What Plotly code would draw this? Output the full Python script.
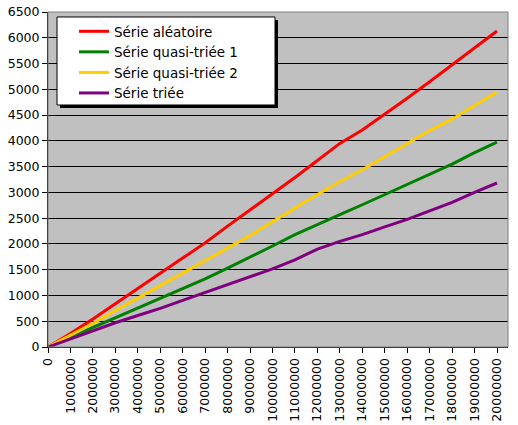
import plotly.graph_objects as go

# x values (number of elements)
x_vals = [i * 1000000 for i in range(21)]

serie_aleatoire = [0, 262, 545, 835, 1125, 1430, 1725, 2020, 2345, 2655, 2965,
                   3290, 3620, 3950, 4210, 4515, 4825, 5145, 5475, 5810, 6131]
serie_quasi_1 = [0, 190, 380, 568, 755, 945, 1135, 1320, 1530, 1737, 1960,
                 2180, 2380, 2570, 2760, 2955, 3150, 3360, 3550, 3770, 3977]
serie_quasi_2 = [0, 228, 455, 705, 945, 1185, 1430, 1670, 1905, 2160, 2430,
                 2700, 2960, 3207, 3440, 3690, 3950, 4200, 4420, 4690, 4948]
serie_triee = [0, 160, 315, 470, 612, 750, 905, 1060, 1210, 1372, 1515,
               1690, 1900, 2050, 2180, 2330, 2475, 2640, 2805, 3000, 3182]

names = ["Série aléatoire", "Série quasi-triée 1", "Série quasi-triée 2", "Série triée"]
series = [serie_aleatoire, serie_quasi_1, serie_quasi_2, serie_triee]
colors = ["#FF0000", "#008000", "#FFCC00", "#800080"]

y_ticks = list(range(0, 6501, 500))
x_ticks = x_vals
x_ticktext = [str(v) for v in x_ticks]

fig = go.Figure()
for name, ys, col in zip(names, series, colors):
    fig.add_trace(go.Scatter(x=x_vals, y=ys, mode="lines", name=name,
                             line=dict(color=col, width=3)))

tick_font = dict(family="DejaVu Sans", size=12.5, color="black")

fig.update_layout(
    width=518, height=425,
    margin=dict(l=48, r=10, t=12, b=78, autoexpand=False),
    paper_bgcolor="white",
    plot_bgcolor="#C0C0C0",
    showlegend=True,
    legend=dict(
        x=0.0565, y=0.988, xanchor="left", yanchor="top",
        bgcolor="rgba(0,0,0,0)", borderwidth=0,
        font=dict(family="DejaVu Sans", size=13.5, color="black"),
        itemwidth=30, tracegroupgap=0,
    ),
    xaxis=dict(
        range=[0, 20490000], automargin=False,
        tickmode="array", tickvals=x_ticks, ticktext=x_ticktext,
        tickangle=-90, tickfont=tick_font,
        showgrid=False, zeroline=False,
        showline=True, linecolor="black", linewidth=1,
        ticks="outside", ticklen=5, tickcolor="black",
        ticklabeloverflow="allow",
    ),
    yaxis=dict(
        range=[0, 6500], automargin=False,
        tickmode="array", tickvals=y_ticks,
        tickfont=tick_font,
        showgrid=True, gridcolor="black", gridwidth=1,
        zeroline=False,
        showline=True, linecolor="black", linewidth=1,
        ticks="outside", ticklen=5, tickcolor="black",
        ticklabeloverflow="allow",
    ),
    shapes=[
        dict(type="rect", xref="paper", yref="paper", x0=0, x1=1, y0=0, y1=1,
             line=dict(color="#808080", width=1), fillcolor="rgba(0,0,0,0)", layer="above"),
        # legend shadow
        dict(type="rect", xref="paper", yref="paper", x0=0.0261, x1=0.5, y0=0.7134, y1=0.9761,
             line=dict(width=0), fillcolor="black", layer="above"),
        # legend box
        dict(type="rect", xref="paper", yref="paper", x0=0.0196, x1=0.4935, y0=0.7224, y1=0.9851,
             line=dict(width=1, color="black"), fillcolor="white", layer="above"),
    ],
)

# remove the default 8px body margin so the figure fills the 518x425 window
fig.write_html("out.html", config={"displayModeBar": False},
               post_script="document.body.style.margin='0';")
